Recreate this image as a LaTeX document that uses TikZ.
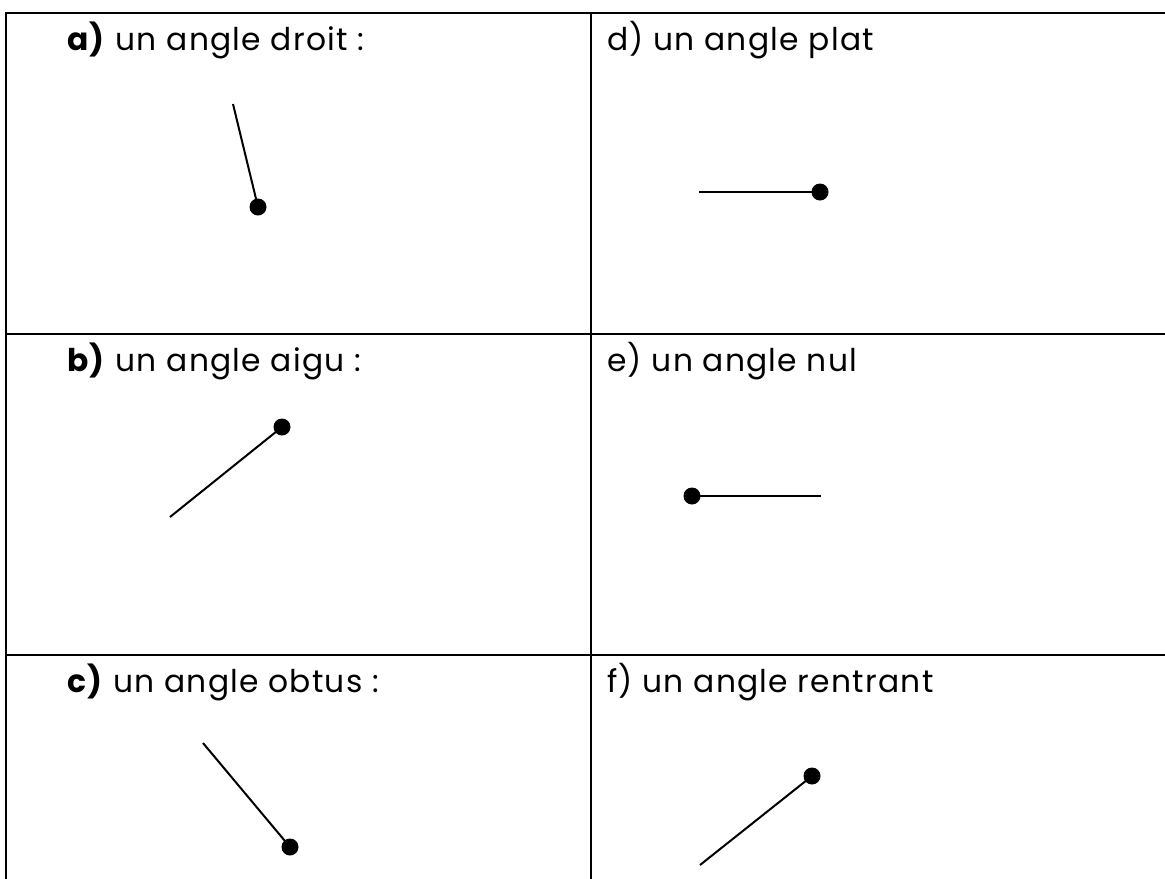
\documentclass[tikz,border=0pt]{standalone}
\usepackage{fontspec}
\setmainfont{Poppins}[LetterSpace=4]
\usetikzlibrary{positioning}
\tikzset{
  tableline/.style={line width=1.9pt, black},
  cell/.style={anchor=base west, inner sep=0pt, font=\fontsize{23.5}{27}\selectfont},
  vertex/.style={circle, fill=black, inner sep=0pt, minimum size=12.75pt},
  side/.style={line width=1.5pt, black},
}

\begin{document}
\begin{tikzpicture}[x=0.75pt, y=-0.75pt]
    \useasboundingbox (0,0) rectangle (1165,879);

    % table
    \draw[tableline] (1170,13) -- (6,13) -- (6,884);
    \draw[tableline] (591,13) -- (591,884);
    \draw[tableline] (6,334) -- (1170,334);
    \draw[tableline] (6,655) -- (1170,655);

    % left column
    \node[cell] (droit) at (67,50) {\textbf{a)} un angle droit :};
    \node[cell] (aigu) at (67,371) {\textbf{b)} un angle aigu :};
    \node[cell] (obtus) at (67,692) {\textbf{c)} un angle obtus :};

    % right column
    \node[cell] (plat) at (607,50) {d) un angle plat};
    \node[cell] (nul) at (607,371) {e) un angle nul};
    \node[cell] (rentrant) at (607,692) {f) un angle rentrant};

    % angles
    \node[vertex] (va) at (258,207) {};
    \coordinate (ea) at (233,104);
    \draw[side] (va.center) -- (ea);

    \node[vertex] (vb) at (282,427) {};
    \coordinate (eb) at (170,517);
    \draw[side] (vb.center) -- (eb);

    \node[vertex] (vc) at (290,847) {};
    \coordinate (ec) at (203,743);
    \draw[side] (vc.center) -- (ec);

    \node[vertex] (vd) at (820,192) {};
    \coordinate (ed) at (699,192);
    \draw[side] (vd.center) -- (ed);

    \node[vertex] (ve) at (692,496) {};
    \coordinate (ee) at (821,496);
    \draw[side] (ve.center) -- (ee);

    \node[vertex] (vf) at (812,776) {};
    \coordinate (ef) at (700,865);
    \draw[side] (vf.center) -- (ef);
\end{tikzpicture}
\end{document}
